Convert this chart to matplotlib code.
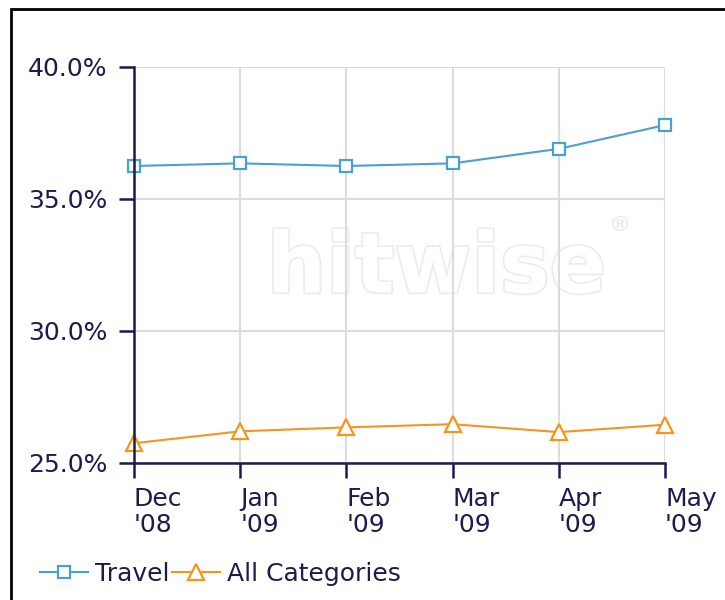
import matplotlib
matplotlib.use("Agg")
import matplotlib.pyplot as plt
import matplotlib.patheffects as pe
from matplotlib.patches import Rectangle
from matplotlib.ticker import FuncFormatter

# data
months = ["Dec\n'08", "Jan\n'09", "Feb\n'09", "Mar\n'09", "Apr\n'09", "May\n'09"]
travel = [36.25, 36.35, 36.25, 36.35, 36.90, 37.80]
all_categories = [25.75, 26.20, 26.35, 26.47, 26.17, 26.45]
y_ticks = [25, 30, 35, 40]

NAVY = "#1b1b4d"
BLUE = "#4aa0cf"
ORANGE = "#f7941e"
GRID = "#dcdcdc"

plt.rcParams["font.family"] = ["DejaVu Sans"]

fig = plt.figure(figsize=(7.25, 6), dpi=100)
ax = fig.add_axes([134 / 725, 1 - 463 / 600, (665 - 134) / 725, (463 - 67) / 600])

# outer frame (top and left edge visible)
fig.patches.append(Rectangle((11 / 725, -0.2), 1.2, 1.2 - 9 / 600,
                             transform=fig.transFigure, fill=False,
                             edgecolor="black", linewidth=2))

# faint watermark
ax.text(0.57, 0.49, "hitwise", transform=ax.transAxes, ha="center", va="center",
        fontsize=60, fontweight="bold", color="white", zorder=0,
        path_effects=[pe.withStroke(linewidth=2.5, foreground="#ececec")])
ax.text(0.915, 0.6, "\u00ae", transform=ax.transAxes, ha="center", va="center",
        fontsize=16, color="#e6e6e6", zorder=0)

x = list(range(len(months)))
ax.plot(x, travel, color=BLUE, lw=1.5, marker="s", ms=9, mfc="white",
        mec=BLUE, mew=1.6, clip_on=False, zorder=4, label="Travel")
ax.plot(x, all_categories, color=ORANGE, lw=1.5, marker="^", ms=11, mfc="white",
        mec=ORANGE, mew=1.6, clip_on=False, zorder=4, label="All Categories")

ax.set_xlim(0, len(months) - 1)
ax.set_ylim(25, 40)
ax.set_xticks(x)
ax.set_xticklabels(months, ha="left", linespacing=1.15)
ax.set_yticks(y_ticks)
ax.yaxis.set_major_formatter(FuncFormatter(lambda v, p: f"{v:.1f}%"))

ax.grid(True, color=GRID, lw=1.5, zorder=1)
ax.set_axisbelow(True)
for s in ["top", "right"]:
    ax.spines[s].set_visible(False)
for s in ["left", "bottom"]:
    ax.spines[s].set_color(NAVY)
    ax.spines[s].set_linewidth(1.8)
    ax.spines[s].set_zorder(5)

ax.tick_params(axis="both", colors=NAVY, labelcolor=NAVY, labelsize=18,
               width=1.8, length=11)
ax.tick_params(axis="y", pad=8)
ax.tick_params(axis="x", pad=6)

fig.legend(loc="center left", bbox_to_anchor=(30 / 725, 1 - 574 / 600),
           frameon=False, fontsize=18, ncol=2, handlelength=1.9,
           handletextpad=0.3, columnspacing=0.1, borderaxespad=0,
           labelcolor=NAVY)

fig.savefig("out.png", dpi=100, facecolor="white")
